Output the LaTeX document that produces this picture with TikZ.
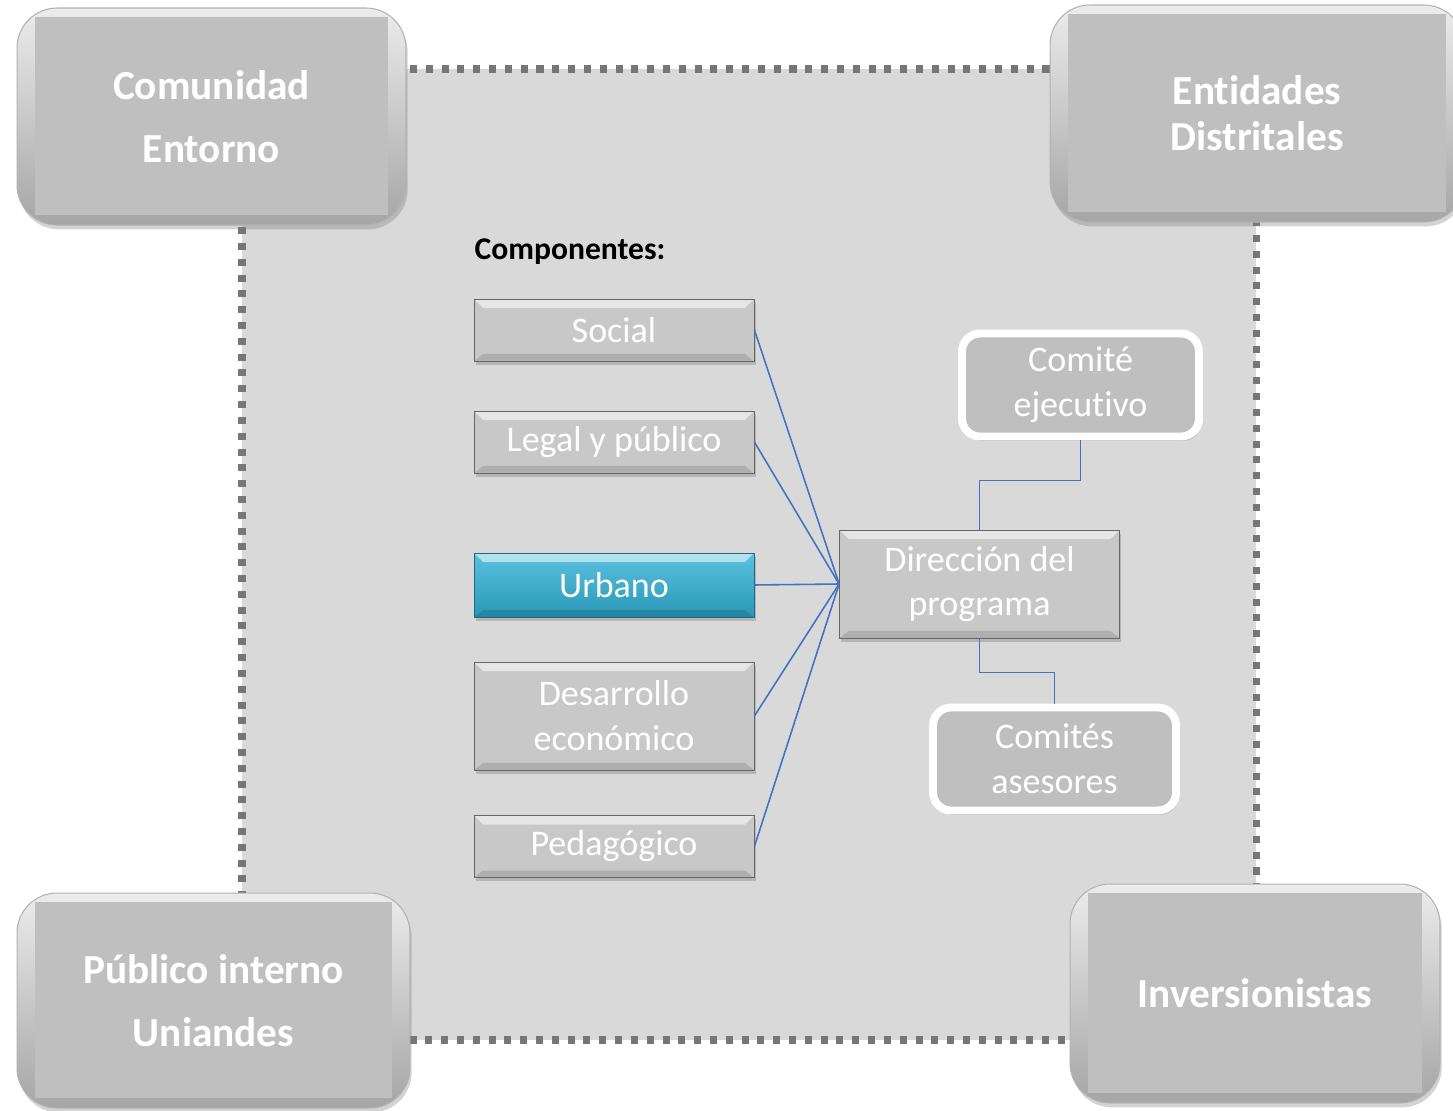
\documentclass[tikz,border=0pt]{standalone}
\usepackage{fontspec}
\setmainfont{Carlito}[Ligatures=CommonOff]
\usetikzlibrary{shadows}
\definecolor{fondo}{HTML}{D9D9D9}
\definecolor{marco}{HTML}{767676}
\definecolor{gris}{HTML}{BFBFBF}
\definecolor{grisclaro}{HTML}{C8C8C8}
\definecolor{azul}{HTML}{4472C4}
\definecolor{turquesa}{HTML}{31B2D7}
\NewDocumentCommand{\letragrande}{}{\fontsize{23.5}{26}\selectfont\bfseries}
\NewDocumentCommand{\letracomp}{}{\fontsize{20.5}{25.5}\selectfont}
\tikzset{/PRG/S/bisel/.style={
	path picture={
		\fill[white, opacity=.55, sharp corners] (path picture bounding box.north west) -- (path picture bounding box.north east) -- ++(-9,9) -- ([shift={(9,9)}]path picture bounding box.north west) -- cycle;
		\fill[black, opacity=.12, sharp corners] (path picture bounding box.south west) -- (path picture bounding box.south east) -- ++(-9,-7) -- ([shift={(9,-7)}]path picture bounding box.south west) -- cycle;
	}
}}
\tikzset{/PRG/S/esquina/.style={
	shape=rectangle, rounded corners=0.8cm, top color=gray!15, bottom color=gray!70,
	draw=gray!60, line width=.6pt, inner sep=0, text=white, align=center, font=\letragrande,
	drop shadow={shadow xshift=1pt, shadow yshift=-2.5pt, opacity=.35},
	path picture={
		\fill[gris, sharp corners] ([shift={(18,9)}]path picture bounding box.north west) rectangle ([shift={(-18,-10)}]path picture bounding box.south east);
	}
}}
\tikzset{/PRG/S/comp/.style={
	shape=rectangle, fill=grisclaro, draw=gray!80!black, line width=.5pt,
	minimum width=5.6cm, minimum height=1.24cm, inner sep=0, text=white, align=center, font=\letracomp,
	/PRG/S/bisel, drop shadow={shadow xshift=1pt, shadow yshift=-2pt, opacity=.4}
}}
\tikzset{/PRG/S/urbano/.style={top color=turquesa!80!white, bottom color=turquesa!85!black, draw=turquesa!60!black}}
\tikzset{/PRG/S/comite/.style={
	shape=rectangle, rounded corners=0.36cm, fill=gris, draw=white, line width=4.5pt,
	minimum width=4.74cm, minimum height=2.06cm, inner sep=0, text=white, align=center, font=\letracomp,
	drop shadow={shadow xshift=1pt, shadow yshift=-2.5pt, opacity=.35}
}}
\tikzset{/PRG/S/linea/.style={draw=azul, line width=.9pt}}

\begin{document}
\begin{tikzpicture}[x=0.02cm, y=-0.02cm]
	\useasboundingbox (0,0) rectangle (1453,1111);
	% marco punteado
	\path[fill=fondo, draw=marco, line width=4pt, dash pattern=on 4pt off 5pt] (242,69) rectangle (1256,1040);
	% esquinas
	\path (211.5,116.5) node[/PRG/S/esquina, minimum width=7.78cm, minimum height=4.34cm] (com) {Comunidad\\[10pt]Entorno};
	\path (1257,113.5) node[/PRG/S/esquina, minimum width=8.28cm, minimum height=4.34cm] (ent) {Entidades\\Distritales};
	\path (213.5,1000.5) node[/PRG/S/esquina, minimum width=7.86cm, minimum height=4.3cm] (pub) {Público interno\\[10pt]Uniandes};
	\path (1255,993.5) node[/PRG/S/esquina, minimum width=7.4cm, minimum height=4.38cm] (inv) {Inversionistas};
	% componentes
	\path (570,252) node[font=\fontsize{18}{22}\selectfont\bfseries] (tit) {Componentes:};
	\path (614,330) node[/PRG/S/comp] (soc) {Social};
	\path (soc) ++ (0,112) node[/PRG/S/comp] (leg) {Legal y público};
	\path (leg) ++ (0,143) node[/PRG/S/comp, /PRG/S/urbano, minimum height=1.28cm] (urb) {Urbano};
	\path (urb) ++ (0,131) node[/PRG/S/comp, minimum height=2.16cm] (des) {Desarrollo\\económico};
	\path (des) ++ (0,130.5) node[/PRG/S/comp] (ped) {Pedagógico};
	% direccion y comites
	\path (urb) ++ (365.5,-1) node[/PRG/S/comp, minimum height=2.16cm] (dir) {Dirección del\\programa};
	\path (dir) ++ (101,-199) node[/PRG/S/comite] (cej) {Comité\\ejecutivo};
	\path (dir) ++ (75,175) node[/PRG/S/comite, minimum width=4.86cm] (cas) {Comités\\asesores};
	% conectores
	\foreach \c in {soc,leg,urb,des,ped}
		\draw[/PRG/S/linea] (\c.east) -- (dir.west);
	\draw[/PRG/S/linea] (cej.south) -- ++(0,40) -| (dir.north);
	\draw[/PRG/S/linea] (dir.south) -- ++(0,34) -| (cas.north);
\end{tikzpicture}
\end{document}
